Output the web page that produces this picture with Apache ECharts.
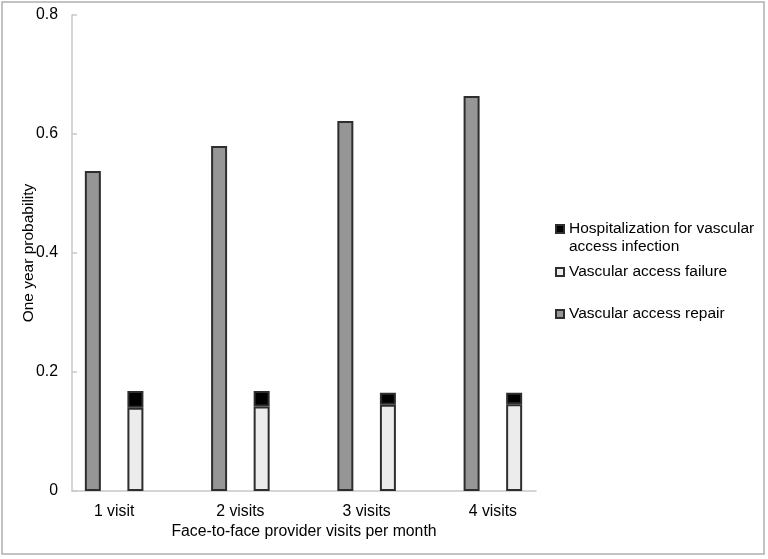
<!DOCTYPE html>
<html>
<head>
<meta charset="utf-8">
<script src="https://cdn.jsdelivr.net/npm/echarts@6/dist/echarts.min.js"></script>
<style>
html,body{margin:0;padding:0;background:#fff;}
#chart{width:768px;height:559px;}
</style>
</head>
<body>
<div id="chart"></div>
<script>
const categories = ['1 visit', '2 visits', '3 visits', '4 visits'];
const repair = [0.538, 0.580, 0.622, 0.664];
const failure = [0.140, 0.142, 0.145, 0.146];
const hospitalization = [0.028, 0.026, 0.020, 0.019];
const yTicks = [0, 0.2, 0.4, 0.6, 0.8];

const NAME_HOSP = 'Hospitalization for vascular access infection';
const NAME_FAIL = 'Vascular access failure';
const NAME_REP = 'Vascular access repair';

const FONT = "'Liberation Sans', Arial, sans-serif";
const chart = echarts.init(document.getElementById('chart'), null, {renderer: 'canvas'});

const legendBase = {
  orient: 'vertical',
  left: 555,
  padding: 0,
  itemWidth: 8,
  itemHeight: 8,
  itemGap: 0,
  icon: 'rect',
  selectedMode: false,
  textStyle: {fontFamily: FONT, fontSize: 15.5, color: '#000', lineHeight: 18}
};

const option = {
  backgroundColor: '#fff',
  animation: false,
  graphic: [{
    type: 'rect',
    shape: {x: 2, y: 2, width: 762, height: 552},
    style: {fill: 'none', stroke: '#b0b0b0', lineWidth: 1.5},
    silent: true
  }],
  legend: [
    Object.assign({}, legendBase, {
      top: 220,
      itemHeight: 26,
      icon: 'path://M0,0L8,0L8,8L0,8Z M0,26',
      data: [NAME_HOSP],
      formatter: () => 'Hospitalization for vascular\naccess infection'
    }),
    Object.assign({}, legendBase, {top: 263, data: [NAME_FAIL]}),
    Object.assign({}, legendBase, {top: 305, data: [NAME_REP]})
  ],
  grid: [
    {left: 72, right: 232, top: 15, bottom: 68, containLabel: false},
    {left: 51, right: 212, top: 15, bottom: 68, containLabel: false}
  ],
  xAxis: [
    {
      gridIndex: 0,
      type: 'category',
      data: categories,
      axisLine: {lineStyle: {color: '#c8c8c8', width: 1.5}},
      axisTick: {show: false},
      axisLabel: {show: false},
      name: 'Face-to-face provider visits per month',
      nameLocation: 'middle',
      nameGap: 33,
      nameMoveOverlap: false,
      nameTextStyle: {fontFamily: FONT, fontSize: 15.8, color: '#000'}
    },
    {
      gridIndex: 1,
      type: 'category',
      data: categories,
      axisLine: {show: false},
      axisTick: {show: false},
      axisLabel: {fontFamily: FONT, fontSize: 15.8, color: '#000', margin: 13}
    }
  ],
  yAxis: [
    {
      gridIndex: 0,
      type: 'value',
      min: yTicks[0],
      max: yTicks[yTicks.length - 1],
      interval: 0.2,
      splitLine: {show: false},
      axisLine: {show: true, lineStyle: {color: '#c8c8c8', width: 1.5}},
      axisTick: {show: true, inside: true, length: 5, lineStyle: {color: '#c8c8c8', width: 1.5}},
      axisLabel: {
        fontFamily: FONT, fontSize: 15.8, color: '#000', margin: 14,
        formatter: v => v === 0 ? '0' : v.toFixed(1)
      },
      name: 'One year probability',
      nameLocation: 'middle',
      nameGap: 35,
      nameMoveOverlap: false,
      nameTextStyle: {fontFamily: FONT, fontSize: 15.5, color: '#000'}
    },
    {
      gridIndex: 1,
      type: 'value',
      min: yTicks[0],
      max: yTicks[yTicks.length - 1],
      interval: 0.2,
      show: false,
      splitLine: {show: false}
    }
  ],
  series: [
    {
      name: NAME_REP,
      type: 'bar',
      xAxisIndex: 1, yAxisIndex: 1,
      data: repair,
      barWidth: 16,
      barGap: '166%',
      itemStyle: {color: '#969696', borderColor: '#2e2e2e', borderWidth: 2}
    },
    {
      name: NAME_FAIL,
      type: 'bar',
      stack: 'infail',
      xAxisIndex: 1, yAxisIndex: 1,
      data: failure,
      barWidth: 16,
      barGap: '166%',
      itemStyle: {color: '#ececec', borderColor: '#2e2e2e', borderWidth: 2}
    },
    {
      name: NAME_HOSP,
      type: 'bar',
      stack: 'infail',
      xAxisIndex: 1, yAxisIndex: 1,
      data: hospitalization,
      barWidth: 16,
      barGap: '166%',
      itemStyle: {color: '#000', borderColor: '#2e2e2e', borderWidth: 2}
    }
  ]
};
chart.setOption(option);
</script>
</body>
</html>
